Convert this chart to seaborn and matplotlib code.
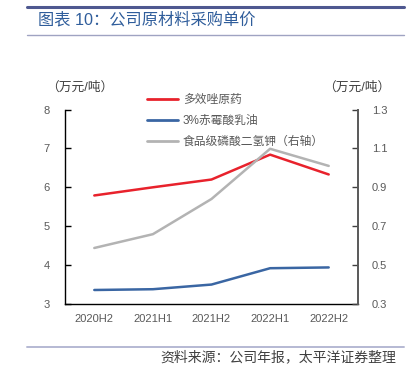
import matplotlib.pyplot as plt
import seaborn as sns
import pandas as pd
from matplotlib.lines import Line2D

sns.set_theme(style="white")
plt.rcParams["font.family"] = ["Liberation Sans", "Noto Sans CJK SC", "DejaVu Sans"]

# data
periods = ["2020H2", "2021H1", "2021H2", "2022H1", "2022H2"]
paclobutrazol = [5.79, 6.00, 6.20, 6.84, 6.33]      # 多效唑原药, left axis
gibberellin = [3.36, 3.38, 3.50, 3.92, 3.94]        # 3%赤霉酸乳油, left axis
kdp_food = [0.588, 0.659, 0.840, 1.098, 1.010]      # 食品级磷酸二氢钾, right axis

series_names = ["多效唑原药", "3%赤霉酸乳油", "食品级磷酸二氢钾（右轴）"]
left_ticks = [3, 4, 5, 6, 7, 8]
right_ticks = [0.3, 0.5, 0.7, 0.9, 1.1, 1.3]

RED = "#E8222C"
BLUE = "#3A66A3"
GRAY = "#B3B3B3"
TICK_COLOR = "#595959"

df = pd.DataFrame({
    "period": periods,
    "red": paclobutrazol,
    "blue": gibberellin,
    "gray": kdp_food,
})

fig = plt.figure(figsize=(4.16, 3.73), dpi=100)
ax = fig.add_axes([65 / 416, 1 - 304 / 373, (358 - 65) / 416, (304 - 109.5) / 373])
ax2 = ax.twinx()

sns.lineplot(data=df, x="period", y="red", ax=ax, color=RED, linewidth=1.8, sort=False)
sns.lineplot(data=df, x="period", y="blue", ax=ax, color=BLUE, linewidth=1.8, sort=False)
sns.lineplot(data=df, x="period", y="gray", ax=ax2, color=GRAY, linewidth=1.8, sort=False)

ax.set_xlim(-0.5, len(periods) - 0.5)
ax.set_ylim(3, 8)
ax2.set_ylim(0.3, 1.3)
ax.set_yticks(left_ticks)
ax2.set_yticks(right_ticks)
ax2.set_yticklabels([f"{v:.1f}" for v in right_ticks])
ax.set_xticks(range(len(periods)))
ax.set_xticklabels(periods)
ax.set_xticks([i - 0.5 for i in range(len(periods) + 1)], minor=True)

for a in (ax, ax2):
    a.set_xlabel("")
    a.set_ylabel("")
    a.grid(False)
    a.spines["top"].set_visible(False)

ax.tick_params(axis="x", which="major", length=0, pad=7, labelsize=8, labelcolor=TICK_COLOR)
ax.tick_params(axis="x", which="minor", direction="in", length=4, width=1, color="black")
ax.tick_params(axis="y", direction="in", length=4, width=1, color="black",
               labelsize=8, labelcolor=TICK_COLOR, pad=11, left=True)
ax2.tick_params(axis="y", direction="in", length=4, width=1, color="#404040",
                labelsize=8, labelcolor=TICK_COLOR, pad=10, right=True)

ax.spines["left"].set_color("black")
ax.spines["left"].set_linewidth(1.0)
ax.spines["bottom"].set_color("black")
ax.spines["bottom"].set_linewidth(1.0)
ax.spines["right"].set_visible(False)
ax2.spines["left"].set_visible(False)
ax2.spines["bottom"].set_visible(False)
ax2.spines["right"].set_color("#595959")
ax2.spines["right"].set_linewidth(1.4)

handles = [Line2D([], [], color=c, linewidth=2) for c in (RED, BLUE, GRAY)]
fig.legend(handles, series_names, loc="upper left",
           bbox_to_anchor=(147 / 416, 1 - 94 / 373), bbox_transform=fig.transFigure,
           frameon=False, fontsize=8.5, handlelength=2.6, handletextpad=0.42,
           labelspacing=0.75, borderpad=0, borderaxespad=0, labelcolor=TICK_COLOR)

# unit labels
fig.text(80 / 416, 1 - 88 / 373, "（万元/吨）", ha="center", va="center",
         fontsize=9.2, color="#404040")
fig.text(357 / 416, 1 - 88 / 373, "（万元/吨）", ha="center", va="center",
         fontsize=9.2, color="#404040")

# header and footer decorations
fig.add_artist(Line2D([27 / 416, 404 / 416], [1 - 7 / 373, 1 - 7 / 373],
                      color="#4E5890", linewidth=2.2, transform=fig.transFigure))
fig.add_artist(Line2D([27 / 416, 404 / 416], [1 - 35 / 373, 1 - 35 / 373],
                      color="#9FA3C2", linewidth=1.0, transform=fig.transFigure))
fig.add_artist(Line2D([27 / 416, 404 / 416], [1 - 347 / 373, 1 - 347 / 373],
                      color="#B5B9D3", linewidth=1.4, transform=fig.transFigure))
fig.text(38 / 416, 1 - 20 / 373, "图表 10：公司原材料采购单价", ha="left", va="center",
         fontsize=11.7, color="#2F5D9B")
fig.text(396 / 416, 1 - 357 / 373, "资料来源：公司年报，太平洋证券整理", ha="right",
         va="center", fontsize=10, color="#404040")

fig.savefig("out.png", dpi=100)
